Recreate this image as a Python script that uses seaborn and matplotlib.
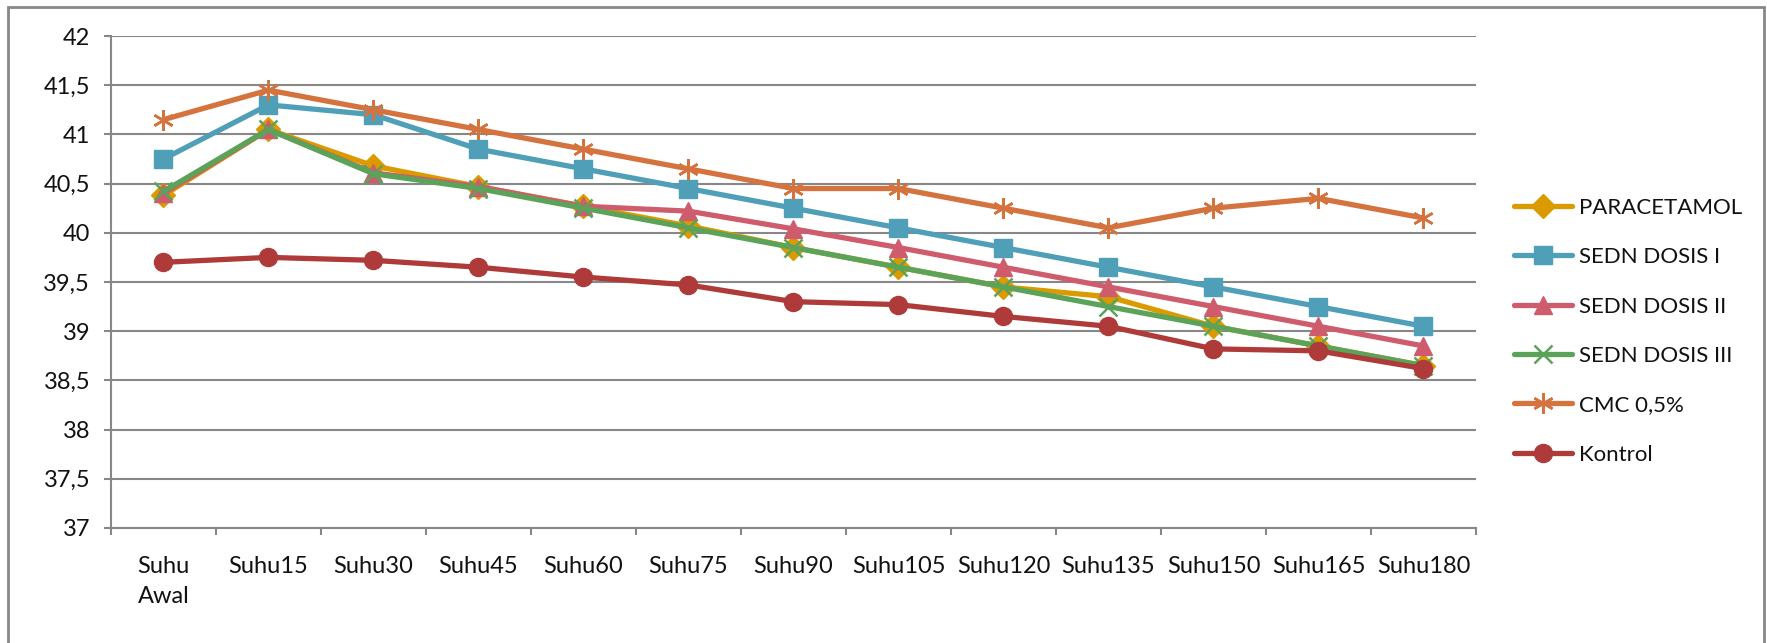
#!/usr/bin/env python3
"""Suhu rektal per kelompok perlakuan (line chart)."""

import matplotlib

matplotlib.use("Agg")
import matplotlib.pyplot as plt
import pandas as pd
import seaborn as sns
from matplotlib.patches import Rectangle
from matplotlib.ticker import FixedLocator, FuncFormatter

CATEGORIES = ["Suhu\nAwal", "Suhu15", "Suhu30", "Suhu45", "Suhu60", "Suhu75", "Suhu90",
              "Suhu105", "Suhu120", "Suhu135", "Suhu150", "Suhu165", "Suhu180"]

PARACETAMOL = [40.38, 41.05, 40.68, 40.47, 40.27, 40.07, 39.85, 39.65, 39.45, 39.35, 39.05, 38.85, 38.65]
SEDN_I = [40.75, 41.30, 41.20, 40.85, 40.65, 40.45, 40.25, 40.05, 39.85, 39.65, 39.45, 39.25, 39.05]
SEDN_II = [40.40, 41.05, 40.61, 40.47, 40.27, 40.22, 40.04, 39.85, 39.65, 39.45, 39.25, 39.05, 38.85]
SEDN_III = [40.42, 41.05, 40.60, 40.45, 40.25, 40.05, 39.85, 39.65, 39.45, 39.25, 39.05, 38.85, 38.65]
CMC = [41.15, 41.45, 41.25, 41.05, 40.85, 40.65, 40.45, 40.45, 40.25, 40.05, 40.25, 40.35, 40.15]
KONTROL = [39.70, 39.75, 39.72, 39.65, 39.55, 39.47, 39.30, 39.27, 39.15, 39.05, 38.82, 38.80, 38.62]

SERIES = [
    ("PARACETAMOL", PARACETAMOL, "#DA9A00", "D", 12, 1),
    ("SEDN DOSIS I", SEDN_I, "#4E9FB7", "s", 13, 1),
    ("SEDN DOSIS II", SEDN_II, "#CF5C6C", "^", 13, 1),
    ("SEDN DOSIS III", SEDN_III, "#5CA35A", "x", 13, 1.8),
    ("CMC 0,5%", CMC, "#D5733F", (6, 2, 0), 15, 1.8),
    ("Kontrol", KONTROL, "#AE3B3A", "o", 13, 1),
]

GRAY = "#878787"
TEXT = "#111111"
FONT = ["Lato", "DejaVu Sans"]

sns.set_theme(style="white")
plt.rcParams["font.family"] = FONT

fig = plt.figure(figsize=(17.67, 6.43), dpi=100)
ax = fig.add_axes([0.0628, 0.1789, 0.7725, 0.7651])

pos = list(range(len(CATEGORIES)))
for name, vals, color, marker, ms, mew in SERIES:
    df = pd.DataFrame({"x": pos, "y": vals})
    sns.lineplot(data=df, x="x", y="y", ax=ax, color=color, linewidth=3.8,
                 marker=marker, markersize=ms, markeredgecolor=color,
                 markerfacecolor=color, markeredgewidth=mew, label=name, sort=False)

ax.set_xlim(-0.5, len(CATEGORIES) - 0.5)
ax.set_ylim(37, 42)
ax.set_xlabel("")
ax.set_ylabel("")

ax.xaxis.set_major_locator(FixedLocator([p - 0.5 for p in range(len(CATEGORIES) + 1)]))
ax.xaxis.set_minor_locator(FixedLocator(pos))
ax.set_xticklabels([], minor=False)
ax.set_xticklabels(CATEGORIES, minor=True, fontsize=17, color=TEXT, linespacing=1.55,
                   verticalalignment="top")
ax.tick_params(axis="x", which="major", direction="out", length=5, width=1.5, color=GRAY, bottom=True)
ax.tick_params(axis="x", which="minor", length=0, pad=20, bottom=True)

ax.set_yticks([37 + 0.5 * i for i in range(11)])
ax.yaxis.set_major_formatter(FuncFormatter(lambda v, _: f"{v:g}".replace(".", ",")))
ax.tick_params(axis="y", direction="out", length=5, width=1.5, color=GRAY, left=True,
               labelsize=17, labelcolor=TEXT, pad=10)

ax.grid(axis="y", color=GRAY, linewidth=1.5)
ax.grid(axis="x", visible=False)
for side in ("top", "right"):
    ax.spines[side].set_visible(False)
for side in ("left", "bottom"):
    ax.spines[side].set_color(GRAY)
    ax.spines[side].set_linewidth(1.5)

leg = ax.legend(loc="upper left", bbox_to_anchor=(0.852, 0.706), bbox_transform=fig.transFigure,
                frameon=False, fontsize=16, handlelength=2.6, handletextpad=0.3,
                labelspacing=1.32, borderaxespad=0)
for t in leg.get_texts():
    t.set_color(TEXT)

fig.patches.append(Rectangle((8 / 1767, -0.05), 1756 / 1767, 1 - 7 / 643 + 0.05,
                             transform=fig.transFigure, fill=False, edgecolor=GRAY,
                             linewidth=2, clip_on=False))

fig.savefig("out.png", dpi=100)
